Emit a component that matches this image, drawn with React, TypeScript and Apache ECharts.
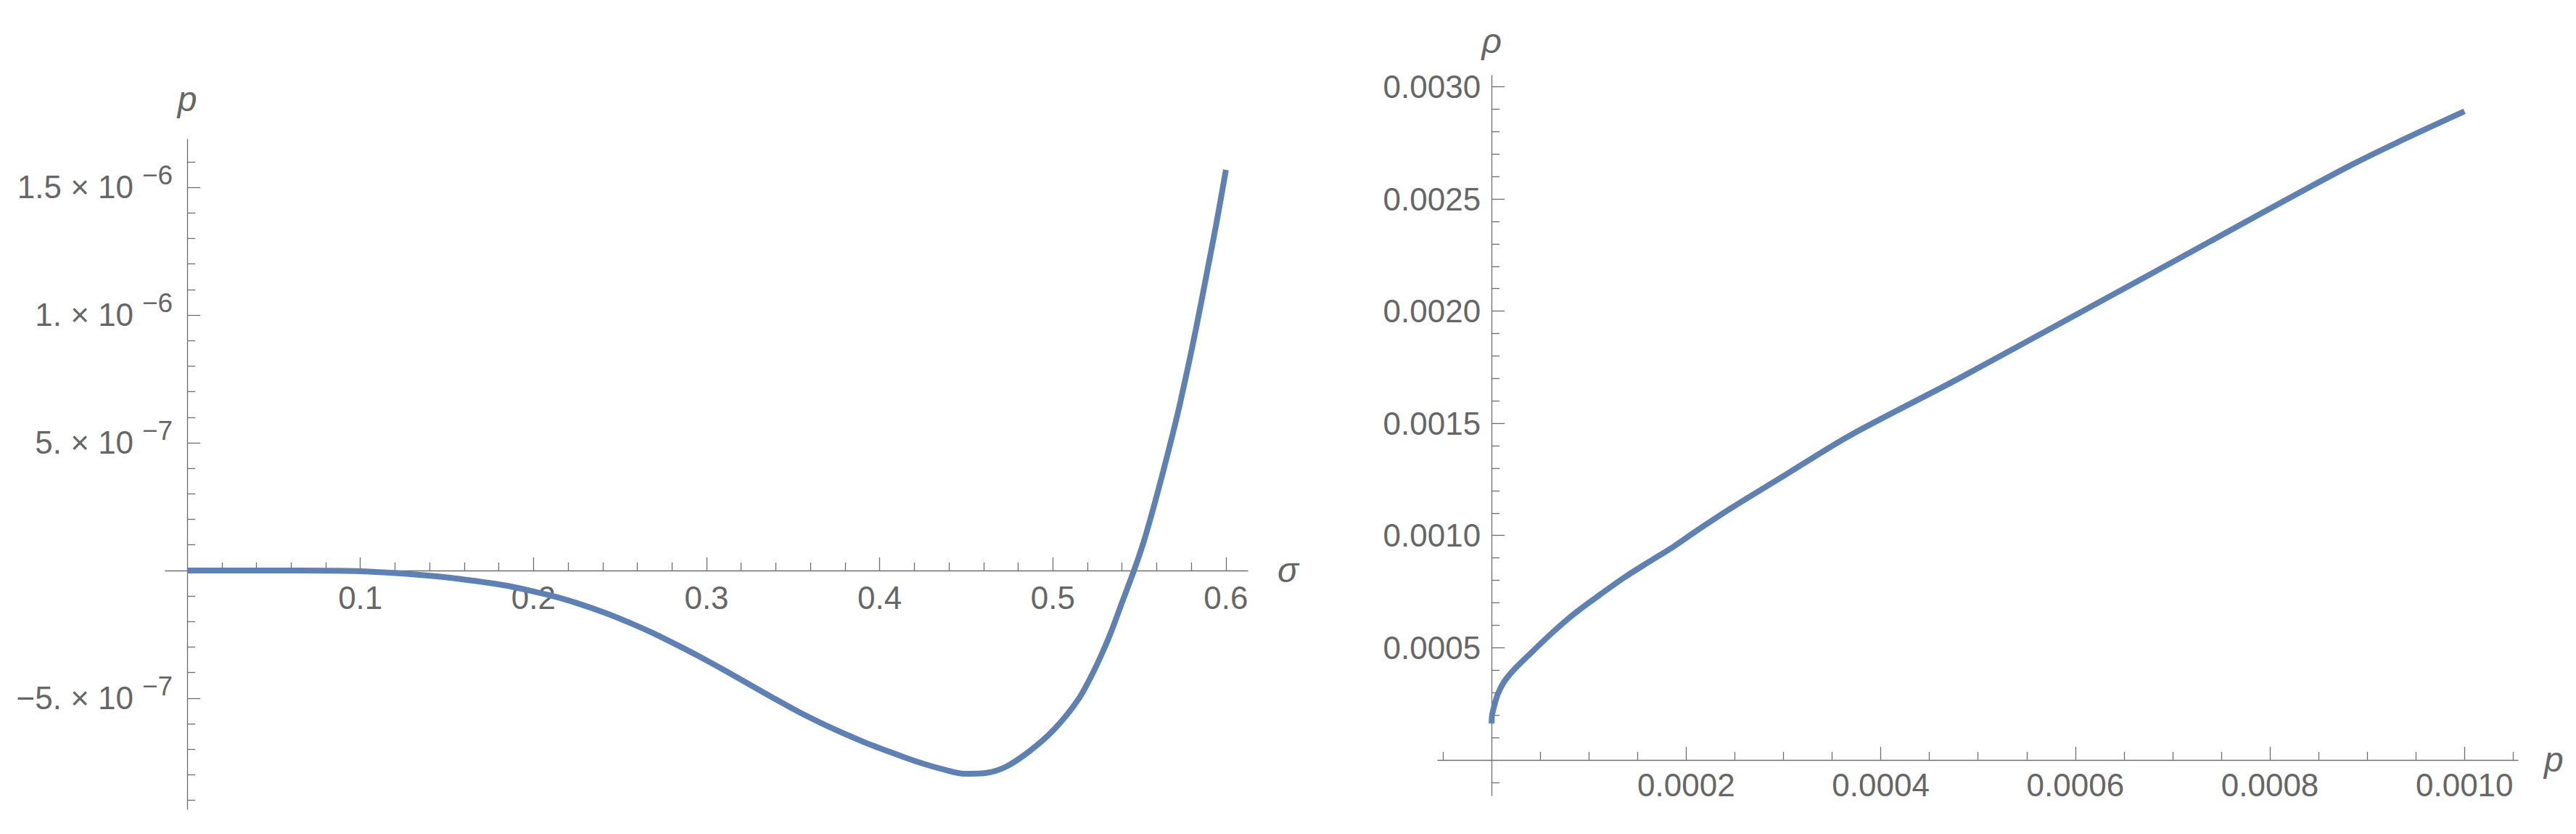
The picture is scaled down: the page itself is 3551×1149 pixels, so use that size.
import React, { useEffect, useRef } from "react";
import * as echarts from "echarts";

// ---------- Left panel: p(σ) ----------
const SIGMA = [0, 0.05, 0.08, 0.1, 0.125, 0.15, 0.175, 0.185, 0.2, 0.2128, 0.227, 0.241, 0.255, 0.269, 0.283, 0.297, 0.311, 0.325, 0.339, 0.353, 0.367, 0.381, 0.395, 0.413, 0.425, 0.437, 0.449, 0.461, 0.473, 0.4866, 0.5008, 0.5148, 0.5246, 0.533, 0.54, 0.5469, 0.5525, 0.5581, 0.5637, 0.5693, 0.5737, 0.5804, 0.5853, 0.5902, 0.5944, 0.6];
const P_OF_SIGMA = [0, 0, -0.001e-6, -0.003e-6, -0.012e-6, -0.027e-6, -0.049e-6, -0.06e-6, -0.082e-6, -0.103e-6, -0.132e-6, -0.165e-6, -0.203e-6, -0.245e-6, -0.292e-6, -0.341e-6, -0.393e-6, -0.447e-6, -0.501e-6, -0.553e-6, -0.6e-6, -0.643e-6, -0.683e-6, -0.728e-6, -0.756e-6, -0.779e-6, -0.796e-6, -0.793e-6, -0.768e-6, -0.707e-6, -0.622e-6, -0.504e-6, -0.381e-6, -0.252e-6, -0.125e-6, 0, 0.112e-6, 0.244e-6, 0.386e-6, 0.535e-6, 0.66e-6, 0.87e-6, 1.035e-6, 1.207e-6, 1.355e-6, 1.568e-6];

const LEFT_X_MAJOR = [0.1, 0.2, 0.3, 0.4, 0.5, 0.6];
const LEFT_X_LABELS = ["0.1", "0.2", "0.3", "0.4", "0.5", "0.6"];
const LEFT_X_MINOR = [0.02, 0.04, 0.06, 0.08, 0.12, 0.14, 0.16, 0.18, 0.22, 0.24, 0.26, 0.28, 0.32, 0.34, 0.36, 0.38, 0.42, 0.44, 0.46, 0.48, 0.52, 0.54, 0.56, 0.58];
const LEFT_Y_MAJOR = [-5e-7, 5e-7, 1e-6, 1.5e-6];
const LEFT_Y_MANTISSA = ["\u22125. \u00d7 10", "5. \u00d7 10", "1. \u00d7 10", "1.5 \u00d7 10"];
const LEFT_Y_EXPONENT = ["\u22127", "\u22127", "\u22126", "\u22126"];
const LEFT_Y_MINOR = [-9e-7, -8e-7, -7e-7, -6e-7, -4e-7, -3e-7, -2e-7, -1e-7, 1e-7, 2e-7, 3e-7, 4e-7, 6e-7, 7e-7, 8e-7, 9e-7, 1.1e-6, 1.2e-6, 1.3e-6, 1.4e-6, 1.6e-6];

// ---------- Right panel: ρ(p) ----------
const P_VALUES = [0, 0.0000005, 0.0000025, 0.0000062, 0.0000124, 0.0000224, 0.0000373, 0.0000622, 0.000087, 0.000112, 0.0001368, 0.0001616, 0.0001866, 0.00021, 0.0002455, 0.0003, 0.000368, 0.00048, 0.000682, 0.000885, 0.001];
const RHO_VALUES = [0.000162, 0.0002, 0.000237, 0.000291, 0.000345, 0.000399, 0.000463, 0.000566, 0.000658, 0.000738, 0.000814, 0.000882, 0.000949, 0.001019, 0.00112, 0.001265, 0.001445, 0.001699, 0.002176, 0.002654, 0.00289];

const RIGHT_X_MAJOR = [0.0002, 0.0004, 0.0006, 0.0008, 0.001];
const RIGHT_X_LABELS = ["0.0002", "0.0004", "0.0006", "0.0008", "0.0010"];
const RIGHT_X_MINOR = [-0.00005, 0.00005, 0.0001, 0.00015, 0.00025, 0.0003, 0.00035, 0.00045, 0.0005, 0.00055, 0.00065, 0.0007, 0.00075, 0.00085, 0.0009, 0.00095, 0.00105];
const RIGHT_Y_MAJOR = [0.0005, 0.001, 0.0015, 0.002, 0.0025, 0.003];
const RIGHT_Y_LABELS = ["0.0005", "0.0010", "0.0015", "0.0020", "0.0025", "0.0030"];
const RIGHT_Y_MINOR = [-0.0001, 0.0001, 0.0002, 0.0003, 0.0004, 0.0006, 0.0007, 0.0008, 0.0009, 0.0011, 0.0012, 0.0013, 0.0014, 0.0016, 0.0017, 0.0018, 0.0019, 0.0021, 0.0022, 0.0023, 0.0024, 0.0026, 0.0027, 0.0028, 0.0029];

// axis ranges (plot range incl. padding)
const LEFT_X_RANGE = [-0.0126, 0.6126];
const LEFT_Y_RANGE = [-0.935e-6, 1.6875e-6];
const RIGHT_X_RANGE = [-0.0000553, 0.001055];
const RIGHT_Y_RANGE = [-0.000159, 0.00305];

const FONT = "Liberation Sans";
const TEXT = "#666666";
const AXIS = "#6e6e6e";
const CURVE = "#5E81B5";

const GRID_L = { left: 228, top: 192, width: 1492, height: 923 };
const GRID_R = { left: 1982, top: 104, width: 1489, height: 992 };

function lookup(values: number[], labels: string[], v: number): string {
  for (let i = 0; i < values.length; i++) {
    if (Math.abs(values[i] - v) <= Math.abs(values[i]) * 1e-6 + 1e-15) return labels[i];
  }
  return "";
}

// distance (px) from the low end of an axis to its zero
function zeroOffset(range: number[], size: number) {
  return (size * (0 - range[0])) / (range[1] - range[0]);
}

function majorAxis(opts: any) {
  return {
    type: "value",
    gridIndex: opts.grid,
    position: opts.position,
    offset: opts.offset,
    min: opts.range[0],
    max: opts.range[1],
    name: opts.name,
    nameLocation: "end",
    nameGap: opts.nameGap,
    nameTextStyle: { fontFamily: FONT, fontSize: 48, fontStyle: "italic", color: TEXT },
    axisLine: { show: true, onZero: false, lineStyle: { color: AXIS, width: 1.3 } },
    axisTick: { show: true, inside: true, length: 18, customValues: opts.major, lineStyle: { color: AXIS, width: 1.3 } },
    axisLabel: {
      show: true,
      customValues: opts.major,
      margin: opts.margin,
      fontFamily: FONT,
      fontSize: 44,
      color: TEXT,
      formatter: opts.formatter,
    },
    splitLine: { show: false },
    minorTick: { show: false },
  };
}

function minorAxis(opts: any) {
  return {
    type: "value",
    gridIndex: opts.grid,
    position: opts.position,
    offset: opts.offset,
    min: opts.range[0],
    max: opts.range[1],
    axisLine: { show: false, onZero: false },
    axisTick: { show: true, inside: true, length: 11, customValues: opts.minor, lineStyle: { color: AXIS, width: 1.3 } },
    axisLabel: { show: false },
    splitLine: { show: false },
  };
}

export default function App() {
  const ref = useRef<HTMLDivElement>(null);

  useEffect(() => {
    document.body.style.margin = "0";
    document.body.style.overflow = "hidden";
    if (!ref.current) return;
    const chart = echarts.init(ref.current, null, { renderer: "svg" });

    // x axes are lifted from the grid bottom to y = 0; y axes are moved right to x = 0
    const lxOff = -zeroOffset(LEFT_Y_RANGE, GRID_L.height);
    const lyOff = -zeroOffset(LEFT_X_RANGE, GRID_L.width);
    const rxOff = -zeroOffset(RIGHT_Y_RANGE, GRID_R.height);
    const ryOff = -zeroOffset(RIGHT_X_RANGE, GRID_R.width);

    // superscript exponents of the left y labels: a two-line label (exponent + blank line)
    // centred on the tick, so the exponent sits half a line above the tick
    const exponentAxis = {
      type: "value",
      gridIndex: 0,
      position: "left",
      offset: lyOff,
      min: LEFT_Y_RANGE[0],
      max: LEFT_Y_RANGE[1],
      axisLine: { show: false, onZero: false },
      axisTick: { show: false },
      splitLine: { show: false },
      axisLabel: {
        show: true,
        customValues: LEFT_Y_MAJOR,
        margin: 20,
        fontFamily: FONT,
        fontSize: 37,
        lineHeight: 32,
        color: TEXT,
        formatter: (v: number) => lookup(LEFT_Y_MAJOR, LEFT_Y_EXPONENT, v) + "\n\u00a0",
      },
    };

    const option: any = {
      animation: false,
      backgroundColor: "#ffffff",
      grid: [
        { ...GRID_L, outerBoundsMode: "none", containLabel: false },
        { ...GRID_R, outerBoundsMode: "none", containLabel: false },
      ],
      xAxis: [
        majorAxis({
          grid: 0, position: "bottom", offset: lxOff, range: LEFT_X_RANGE, name: "\u03c3", nameGap: 41,
          major: LEFT_X_MAJOR, margin: 16,
          formatter: (v: number) => lookup(LEFT_X_MAJOR, LEFT_X_LABELS, v),
        }),
        minorAxis({ grid: 0, position: "bottom", offset: lxOff, range: LEFT_X_RANGE, minor: LEFT_X_MINOR }),
        majorAxis({
          grid: 1, position: "bottom", offset: rxOff, range: RIGHT_X_RANGE, name: "p", nameGap: 36,
          major: RIGHT_X_MAJOR, margin: 13,
          formatter: (v: number) => lookup(RIGHT_X_MAJOR, RIGHT_X_LABELS, v),
        }),
        minorAxis({ grid: 1, position: "bottom", offset: rxOff, range: RIGHT_X_RANGE, minor: RIGHT_X_MINOR }),
      ],
      yAxis: [
        majorAxis({
          grid: 0, position: "left", offset: lyOff, range: LEFT_Y_RANGE, name: "p", nameGap: 32,
          major: LEFT_Y_MAJOR, margin: 74,
          formatter: (v: number) => lookup(LEFT_Y_MAJOR, LEFT_Y_MANTISSA, v),
        }),
        minorAxis({ grid: 0, position: "left", offset: lyOff, range: LEFT_Y_RANGE, minor: LEFT_Y_MINOR }),
        majorAxis({
          grid: 1, position: "left", offset: ryOff, range: RIGHT_Y_RANGE, name: "\u03c1", nameGap: 24,
          major: RIGHT_Y_MAJOR, margin: 15,
          formatter: (v: number) => lookup(RIGHT_Y_MAJOR, RIGHT_Y_LABELS, v),
        }),
        minorAxis({ grid: 1, position: "left", offset: ryOff, range: RIGHT_Y_RANGE, minor: RIGHT_Y_MINOR }),
        exponentAxis,
      ],
      series: [
        {
          type: "line",
          xAxisIndex: 0,
          yAxisIndex: 0,
          data: SIGMA.map((s, i) => [s, P_OF_SIGMA[i]]),
          showSymbol: false,
          smooth: 0.3,
          lineStyle: { color: CURVE, width: 8, cap: "butt" },
          silent: true,
        },
        {
          type: "line",
          xAxisIndex: 2,
          yAxisIndex: 2,
          data: P_VALUES.map((p, i) => [p, RHO_VALUES[i]]),
          showSymbol: false,
          smooth: 0.3,
          lineStyle: { color: CURVE, width: 8, cap: "butt" },
          silent: true,
        },
      ],
    };

    chart.setOption(option);
    return () => {
      chart.dispose();
    };
  }, []);

  return <div ref={ref} style={{ width: 3551, height: 1149 }} />;
}
